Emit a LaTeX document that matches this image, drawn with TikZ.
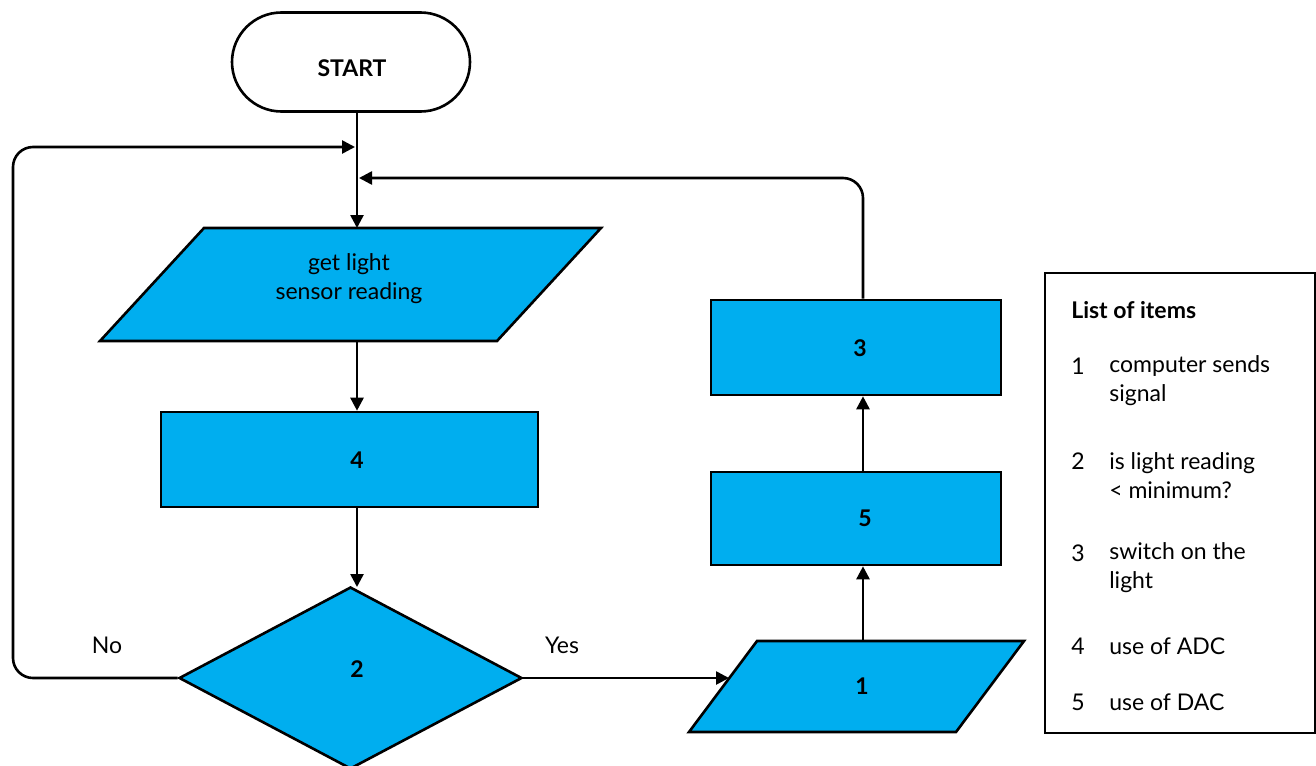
\documentclass[tikz,border=0pt]{standalone}
\usepackage{fontspec}
\setmainfont{Lato}
\usetikzlibrary{shapes.geometric,shapes.misc,arrows.meta}
\definecolor{fc}{RGB}{0,174,239}
\begin{document}
\begin{tikzpicture}[x=0.5pt,y=-0.5pt,
  font=\fontsize{11.5}{14.5}\selectfont, line width=1.3pt,
  arr/.style={-{Triangle[length=6.5pt,width=6.5pt]}},
  bf/.style={inner sep=0pt,font=\fontsize{11.5}{14.5}\selectfont\bfseries},
  procbox/.style={draw,fill=fc,rectangle,inner sep=0pt},
  iobox/.style={draw,fill=fc},
  lbl/.style={inner sep=0pt,anchor=west,align=left},
  loop/.style={arr,rounded corners=10pt}]
\useasboundingbox (0,0) rectangle (1316,765);

% start
\node[draw,rounded rectangle,minimum width=119pt,minimum height=49.5pt,inner sep=0pt] (start) at (351,62) {};
\node[bf] (startlbl) at (352,68) {START};

% input parallelogram
\coordinate (p1a) at (204,228);
\coordinate (p1b) at (601,228);
\coordinate (p1c) at (497,341);
\coordinate (p1d) at (100,341);
\draw[iobox] (p1a)--(p1b)--(p1c)--(p1d)--cycle;
\node[align=center,inner sep=0pt] (p1) at (349,279) {get light\\sensor reading};
\coordinate (p1top) at (357,228);
\coordinate (p1bot) at (357,341);

% box 4
\node[procbox,minimum width=188.5pt,minimum height=47.5pt] (b4) at (349.5,459.5) {};
\node[bf] (b4lbl) at (357,460) {4};

% diamond
\node[draw,fill=fc,diamond,inner sep=0pt,minimum width=171.5pt,minimum height=91pt] (dia) at (350.5,678) {};
\node[bf] (d2) at (357,669) {2};

% output parallelogram
\coordinate (p2a) at (757,641);
\coordinate (p2b) at (1024,641);
\coordinate (p2c) at (956,732);
\coordinate (p2d) at (689,732);
\draw[iobox] (p2a)--(p2b)--(p2c)--(p2d)--cycle;
\node[bf] (p2) at (862,686) {1};
\coordinate (p2top) at (863,641);
\coordinate (p2in) at (729,678);

% boxes 5 and 3
\node[procbox,minimum width=145pt,minimum height=46.5pt] (b5) at (856,518.5) {};
\node[bf] (b5lbl) at (865,518) {5};
\node[procbox,minimum width=145pt,minimum height=47.5pt] (b3) at (856,347.5) {};
\node[bf] (b3lbl) at (860,348) {3};

% connectors
\coordinate (s0) at (357,112);
\draw[arr] (s0) -- (p1top);
\draw[arr] (p1bot) -- (b4.north -| p1bot);
\draw[arr] (b4.south -| p1bot) -- (357,587);
\draw[loop] (dia.west) -- (13,678) -- (13,147) -- (355,147);
\draw[loop] (b3.north -| p2top) -- (863,178) -- (359,178);
\draw[arr] (dia.east) -- (p2in);
\draw[arr] (p2top) -- (b5.south -| p2top);
\draw[arr] (b5.north -| p2top) -- (b3.south -| p2top);

\node[inner sep=0pt] (no) at (107,645) {No};
\node[inner sep=0pt] (yes) at (562,645) {Yes};

% list
\draw (1045,273) rectangle (1315,733);
\node[lbl,font=\fontsize{11.5}{14.5}\selectfont\bfseries] (lt) at (1070,310) {List of items};
\node[lbl] (n1) at (1070,366) {1};
\node[lbl] (t1) at (1108,380.5) {computer sends\\signal};
\node[lbl] (n2) at (1070,461) {2};
\node[lbl] (t2) at (1108,475.5) {is light reading\\< minimum?};
\node[lbl] (n3) at (1070,553) {3};
\node[lbl] (t3) at (1108,567.5) {switch on the\\light};
\node[lbl] (n4) at (1070,646) {4};
\node[lbl] (t4) at (1108,646) {use of ADC};
\node[lbl] (n5) at (1070,702) {5};
\node[lbl] (t5) at (1108,702) {use of DAC};
\end{tikzpicture}
\end{document}
